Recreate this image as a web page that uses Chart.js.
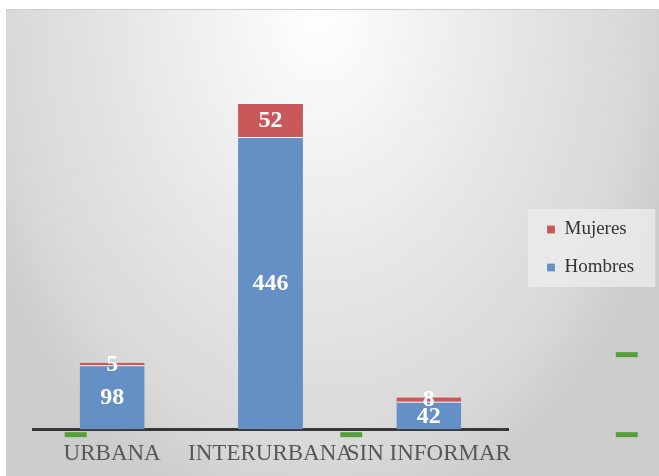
<!DOCTYPE html>
<html>
<head>
<meta charset="utf-8">
<script src="https://cdn.jsdelivr.net/npm/chart.js@4/dist/chart.umd.min.js"></script>
<style>
	html, body { margin: 0; padding: 0; background: #ffffff; }
	#wrap {
		position: absolute; left: 6px; top: 9px; width: 653px; height: 467px;
		border-top: 1px solid #cdcdcd;
		background: radial-gradient(ellipse 56% 110% at 48% 0%, #ffffff 0%, #f1f1f1 30%, #e3e3e3 60%, #d8d8d8 87%, #cdcdcd 100%);
	}
</style>
</head>
<body>
<div id="wrap"><canvas id="chart"></canvas></div>
<script>
	// Data
	const categories = ['URBANA', 'INTERURBANA', 'SIN INFORMAR'];
	const hombres = [98, 446, 42];
	const mujeres = [5, 52, 8];
	// green dash artefacts: x in category index units, y in value units
	const marksX = [-0.23, 1.51, 3.25, 3.25];
	const marksY = [-8, -8, 114, -8];

	const blue = '#6490c6';
	const red = '#c9585a';
	const serif = 'Liberation Serif';
	Chart.defaults.font.family = serif;

	// Draws the white value labels in the middle of each bar segment
	const barLabels = {
		id: 'barLabels',
		afterDatasetsDraw(chart) {
			const ctx = chart.ctx;
			ctx.save();
			ctx.fillStyle = '#ffffff';
			ctx.font = "bold 24px 'Liberation Serif'";
			ctx.textAlign = 'center';
			ctx.textBaseline = 'middle';
			[0, 1].forEach((di) => {
				const meta = chart.getDatasetMeta(di);
				meta.data.forEach((bar, i) => {
					const p = bar.getProps(['x', 'y', 'base'], true);
					ctx.fillText(String(chart.data.datasets[di].data[i]), p.x, (p.y + p.base) / 2 + 1);
				});
			});
			ctx.restore();
		}
	};

	// Green dashes, placed through the chart scales
	const greenMarks = {
		id: 'greenMarks',
		afterDraw(chart) {
			const ctx = chart.ctx;
			const xs = chart.scales.x;
			const ys = chart.scales.y;
			ctx.save();
			ctx.strokeStyle = '#55a03a';
			ctx.lineWidth = 5;
			marksX.forEach((v, i) => {
				const px = xs.getPixelForValue(v);
				const py = ys.getPixelForValue(marksY[i]);
				ctx.beginPath();
				ctx.moveTo(px - 11, py);
				ctx.lineTo(px + 11, py);
				ctx.stroke();
			});
			ctx.restore();
		}
	};

	// Fixes the legend width, moves its items, paints a light panel behind them
	const legendPanel = {
		id: 'legendPanel',
		beforeLayout(chart) {
			const lg = chart.legend;
			if (!lg || lg._fixedFit) return;
			const fit = lg.fit;
			lg.fit = function () {
				fit.call(this);
				this.width = 140;
			};
			lg._fixedFit = true;
		},
		afterLayout(chart) {
			const lg = chart.legend;
			if (!lg) return;
			const dx = chart.chartArea.right + 20 - lg.left;
			lg.left += dx;
			lg.right += dx;
			lg.top -= 9;
			lg.bottom -= 9;
		},
		beforeDraw(chart) {
			const lg = chart.legend;
			if (!lg || !lg.legendHitBoxes || !lg.legendHitBoxes.length) return;
			const boxes = lg.legendHitBoxes;
			const x0 = Math.min(...boxes.map(b => b.left)) - 19;
			const x1 = Math.max(...boxes.map(b => b.left + b.width)) + 21;
			const y0 = Math.min(...boxes.map(b => b.top)) - 11;
			const y1 = Math.max(...boxes.map(b => b.top + b.height)) + 10;
			const ctx = chart.ctx;
			ctx.save();
			ctx.fillStyle = 'rgba(236,236,236,0.8)';
			ctx.fillRect(x0, y0, x1 - x0, y1 - y0);
			ctx.restore();
		}
	};

	function draw() {
		new Chart(document.getElementById('chart'), {
			type: 'bar',
			data: {
				labels: categories,
				datasets: [
					{
						label: 'Hombres',
						data: hombres,
						backgroundColor: blue,
						borderColor: 'rgba(255,255,255,0.55)',
						borderWidth: { top: 1 },
						barPercentage: 0.41,
						categoryPercentage: 1
					},
					{
						label: 'Mujeres',
						data: mujeres,
						backgroundColor: red,
						borderColor: 'rgba(255,255,255,0.55)',
						borderWidth: { top: 1 },
						barPercentage: 0.41,
						categoryPercentage: 1
					}
				]
			},
			options: {
				responsive: true,
				maintainAspectRatio: false,
				animation: false,
				layout: { padding: { left: 27, top: 26, bottom: -2, right: 11 } },
				scales: {
					x: {
						stacked: true,
						grid: { display: false, drawTicks: false },
						border: { display: true, color: '#383838', width: 3 },
						ticks: {
							color: '#575757',
							font: { family: serif, size: 23 },
							padding: 11,
							autoSkip: false,
							maxRotation: 0
						}
					},
					y: {
						stacked: true,
						display: false,
						min: 0,
						max: 600
					}
				},
				plugins: {
					legend: {
						position: 'right',
						reverse: true,
						labels: {
							boxWidth: 8,
							boxHeight: 8,
							color: '#333333',
							font: { family: serif, size: 19 },
							padding: 19
						}
					},
					tooltip: { enabled: false }
				}
			},
			plugins: [barLabels, greenMarks, legendPanel]
		});
	}

	Promise.all([
		document.fonts.load("19px 'Liberation Serif'"),
		document.fonts.load("bold 24px 'Liberation Serif'")
	]).then(draw, draw);
</script>
</body>
</html>
